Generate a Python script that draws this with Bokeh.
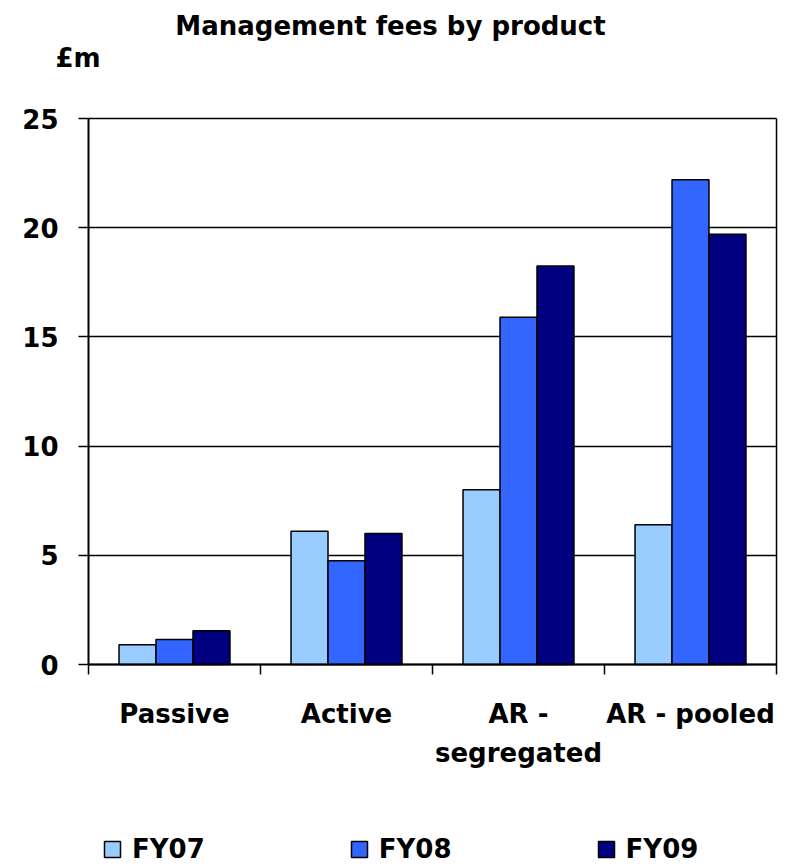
from bokeh.plotting import figure
from bokeh.models import (FixedTicker, Label, Legend, LegendItem, ColumnDataSource,
                          Range1d, LinearAxis, Grid)
from bokeh.transform import dodge
from bokeh.embed import file_html
from bokeh.resources import INLINE

# ---- data ----
categories = ["Passive", "Active", "AR -\nsegregated", "AR - pooled"]
series_names = ["FY07", "FY08", "FY09"]
fy07 = [0.9, 6.1, 8.0, 6.4]
fy08 = [1.15, 4.75, 15.9, 22.2]
fy09 = [1.55, 6.0, 18.25, 19.7]
y_ticks = [0, 5, 10, 15, 20, 25]
title_text = "Management fees by product"
unit_text = "£m"

colors = ["#99CCFF", "#3366FF", "#000080"]
FONT = "DejaVu Sans"
BAR_W = 0.215

# ---- layout geometry (pixels) ----
W, H = 794, 867
PLOT_L, PLOT_R, PLOT_T, PLOT_B = 88, 776, 118, 664

n = len(categories)
y_max = y_ticks[-1]
centers = [i + 0.5 for i in range(n)]
bounds = [i for i in range(n + 1)]

# the frame covers the whole canvas; the chart box sits inside it
xpu = (PLOT_R - PLOT_L) / n
ypu = (PLOT_B - PLOT_T) / y_max
x_range = Range1d(-PLOT_L / xpu, n + (W - PLOT_R) / xpu)
y_range = Range1d(-(H - PLOT_B) / ypu, y_max + PLOT_T / ypu)

p = figure(width=W, height=H, output_backend="svg", toolbar_location=None,
           x_range=x_range, y_range=y_range,
           x_axis_location=None, y_axis_location=None, min_border=0)
p.background_fill_color = "white"
p.border_fill_color = "white"
p.outline_line_color = None
for g in list(p.grid):
    g.visible = False

src = ColumnDataSource(dict(x=centers, fy07=fy07, fy08=fy08, fy09=fy09))

# horizontal grid lines (incl. top border at 25)
grid = Grid(dimension=1, ticker=FixedTicker(ticks=y_ticks),
            grid_line_color="black", grid_line_width=1.5, grid_line_alpha=1)
try:
    grid.cross_bounds = (0, n)
    p.add_layout(grid)
except Exception:
    p.segment(x0=0, x1=n, y0=y_ticks, y1=y_ticks, line_color="black", line_width=1.5)

renderers = []
for k, (col_name, color) in enumerate(zip(["fy07", "fy08", "fy09"], colors)):
    r = p.vbar(x=dodge("x", (k - 1) * BAR_W), top=col_name, width=BAR_W, source=src,
               fill_color=color, line_color="black", line_width=1.5)
    renderers.append(r)

# x axis at y=0: labels at centres, ticks at boundaries
xa = LinearAxis(fixed_location=0, bounds=(0, n),
                ticker=FixedTicker(ticks=centers, minor_ticks=bounds))
xa.major_label_overrides = {c: lab for c, lab in zip(centers, categories)}
xa.major_tick_out = 0
xa.major_tick_in = 0
xa.major_tick_line_color = None
xa.minor_tick_out = 10
xa.minor_tick_in = 0
xa.minor_tick_line_color = "black"
xa.minor_tick_line_width = 1.5
xa.axis_line_color = "black"
xa.axis_line_width = 2
xa.major_label_standoff = 24
xa.major_label_text_font = FONT
xa.major_label_text_font_style = "bold"
xa.major_label_text_font_size = "26px"
xa.major_label_text_color = "black"
xa.major_label_text_line_height = 1.32
p.add_layout(xa, "below")

# y axis at x=0
ya = LinearAxis(fixed_location=0, bounds=(0, y_max), ticker=FixedTicker(ticks=y_ticks))
ya.major_tick_out = 10
ya.major_tick_in = 0
ya.major_tick_line_color = "black"
ya.major_tick_line_width = 1.5
ya.minor_tick_line_color = None
ya.axis_line_color = "black"
ya.axis_line_width = 2
ya.major_label_standoff = 20
ya.major_label_text_font = FONT
ya.major_label_text_font_style = "bold"
ya.major_label_text_font_size = "26px"
ya.major_label_text_color = "black"
p.add_layout(ya, "left")

# right border of the chart box
yr = LinearAxis(fixed_location=n, bounds=(0, y_max), ticker=FixedTicker(ticks=[]))
yr.major_tick_line_color = None
yr.minor_tick_line_color = None
yr.axis_line_color = "black"
yr.axis_line_width = 1.5
p.add_layout(yr, "right")

# title and unit label
p.add_layout(Label(x=390, y=H - 25, x_units="screen", y_units="screen", text=title_text,
                   text_align="center", text_baseline="alphabetic",
                   text_font=FONT, text_font_style="bold", text_font_size="26px",
                   text_color="black"))
p.add_layout(Label(x=55, y=H - 57, x_units="screen", y_units="screen", text=unit_text,
                   text_align="left", text_baseline="alphabetic",
                   text_font=FONT, text_font_style="bold", text_font_size="26px",
                   text_color="black"))

legend = Legend(items=[LegendItem(label=nm, renderers=[r]) for nm, r in zip(series_names, renderers)],
                orientation="horizontal", location=(102, 3),
                glyph_width=20, glyph_height=20, label_standoff=10, spacing=144,
                padding=0, margin=0, border_line_color=None, background_fill_alpha=0,
                label_text_font=FONT, label_text_font_style="bold",
                label_text_font_size="26px", label_text_color="black")
p.add_layout(legend)

open("out.html", "w").write(file_html(p, INLINE))
